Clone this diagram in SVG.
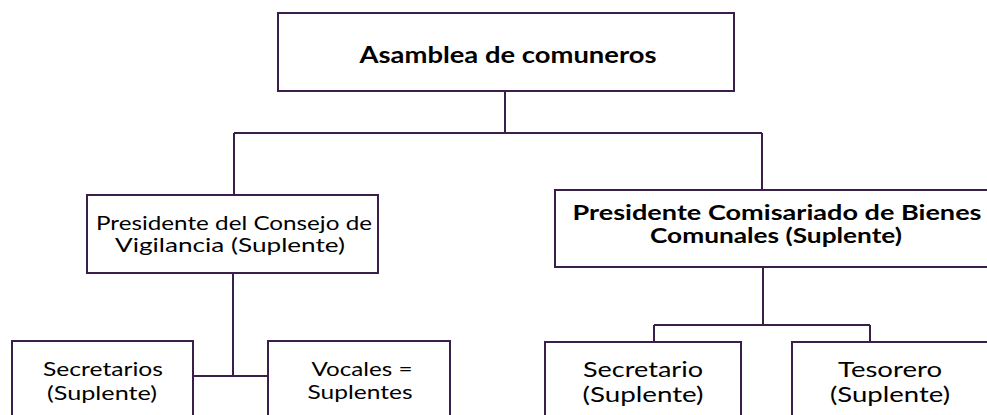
<svg xmlns="http://www.w3.org/2000/svg" width="987" height="415" viewBox="0 0 987 415">
<style>
.box{fill:#fff;stroke:#3b1f4b;stroke-width:2}
.ln{fill:none;stroke:#3b1f4b;stroke-width:2}
text{font-family:Lato,"Open Sans","Liberation Sans",sans-serif;fill:#000;text-anchor:middle}
.b{font-weight:bold}
</style>
<rect width="987" height="415" fill="#fff"/>
<g id="connectors">
<path class="ln" d="M505,91V133M234,133H762M234,133V195M762,133V190"/>
<path class="ln" d="M233,273V376M193,376H268"/>
<path class="ln" d="M763,267V325M654,325H870M654,325V342M870,325V342"/>
</g>
<g id="asamblea">
<rect class="box" x="278" y="13" width="456" height="78"/>
<text class="b" x="508" y="63" font-size="23" textLength="297" lengthAdjust="spacingAndGlyphs">Asamblea de comuneros</text>
</g>
<g id="consejo">
<rect class="box" x="87" y="195" width="291" height="78"/>
<text x="234" y="230" font-size="19" textLength="276" lengthAdjust="spacingAndGlyphs">Presidente del Consejo de</text>
<text x="230" y="252" font-size="19" textLength="230" lengthAdjust="spacingAndGlyphs">Vigilancia  (Suplente)</text>
</g>
<g id="comisariado">
<rect class="box" x="555" y="190" width="445" height="77"/>
<text class="b" x="777" y="220" font-size="20" textLength="409" lengthAdjust="spacingAndGlyphs">Presidente Comisariado de Bienes</text>
<text class="b" x="776" y="243" font-size="20" textLength="252" lengthAdjust="spacingAndGlyphs">Comunales (Suplente)</text>
</g>
<g id="secretarios">
<rect class="box" x="12" y="341" width="181" height="90"/>
<text x="103" y="376" font-size="20" textLength="120" lengthAdjust="spacingAndGlyphs">Secretarios</text>
<text x="102" y="400" font-size="20" textLength="110" lengthAdjust="spacingAndGlyphs">(Suplente)</text>
</g>
<g id="vocales">
<rect class="box" x="268" y="341" width="182" height="90"/>
<text x="362" y="376" font-size="20" textLength="101" lengthAdjust="spacingAndGlyphs">Vocales =</text>
<text x="360" y="399" font-size="20" textLength="105" lengthAdjust="spacingAndGlyphs">Suplentes</text>
</g>
<g id="secretario">
<rect class="box" x="545" y="342" width="196" height="90"/>
<text x="643" y="377" font-size="22" textLength="120" lengthAdjust="spacingAndGlyphs">Secretario</text>
<text x="643" y="402" font-size="22" textLength="121" lengthAdjust="spacingAndGlyphs">(Suplente)</text>
</g>
<g id="tesorero">
<rect class="box" x="792" y="342" width="196" height="90"/>
<text x="890" y="377" font-size="22" textLength="104" lengthAdjust="spacingAndGlyphs">Tesorero</text>
<text x="890" y="402" font-size="22" textLength="120" lengthAdjust="spacingAndGlyphs">(Suplente)</text>
</g>
</svg>
